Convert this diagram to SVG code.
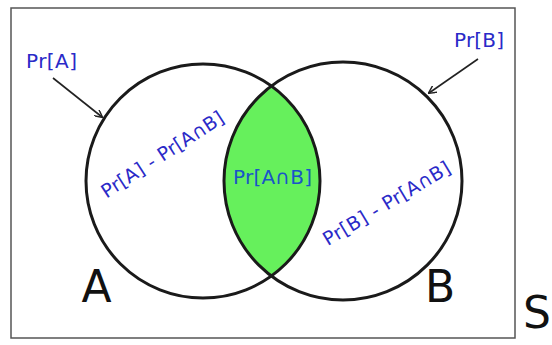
<svg xmlns="http://www.w3.org/2000/svg" width="552" height="345" viewBox="0 0 552 345">
<defs>
<style>
.lbl{font-family:"DejaVu Sans","Liberation Sans",sans-serif;fill:#2a2ac8;}
.big{font-family:"DejaVu Sans","Liberation Sans",sans-serif;fill:#111;font-size:44px;}
.circ{fill:none;stroke:#1a1a1a;stroke-width:3;}
.arr{stroke:#222;stroke-width:1.6;fill:none;marker-end:url(#ah);}
</style>
<marker id="ah" viewBox="0 0 10 10" refX="9" refY="5" markerWidth="8" markerHeight="8" orient="auto" markerUnits="userSpaceOnUse">
<path d="M0,0 L10,5 L0,10" fill="none" stroke="#222" stroke-width="1.8"/>
</marker>
</defs>
<rect x="0" y="0" width="552" height="345" fill="#fff"/>
<rect id="frame" x="11" y="8" width="504" height="330" fill="none" stroke="#555" stroke-width="1.5"/>
<g id="intersection">
<path d="M271.3,86 A117,117 0 0 1 271.3,276 A119,119 0 0 1 271.3,86 Z" fill="#66f05c"/>
<text class="lbl" x="272.5" y="184" font-size="20" text-anchor="middle" textLength="79" style="fill:#1a55c8">Pr[A∩B]</text>
</g>
<g id="setA">
<circle class="circ" cx="203" cy="181" r="117"/>
<text class="lbl" x="166" y="160" font-size="19" text-anchor="middle" textLength="142" transform="rotate(-33 166 160)">Pr[A] - Pr[A∩B]</text>
<text class="big" x="96.5" y="302" text-anchor="middle">A</text>
</g>
<g id="setB">
<circle class="circ" cx="343" cy="181" r="119"/>
<text class="lbl" x="390" y="209" font-size="19" text-anchor="middle" textLength="145" transform="rotate(-31 390 209)">Pr[B] - Pr[A∩B]</text>
<text class="big" x="440" y="302" text-anchor="middle">B</text>
</g>
<g id="labelPrA">
<text class="lbl" x="26" y="68" font-size="20" textLength="51">Pr[A]</text>
</g>
<g id="labelPrB">
<text class="lbl" x="454" y="47" font-size="20" textLength="50">Pr[B]</text>
</g>
<g id="labelS">
<text class="big" x="537" y="328" text-anchor="middle" font-size="44">S</text>
</g>
<g id="connectors">
<line class="arr" x1="53" y1="78" x2="102" y2="117"/>
<line class="arr" x1="478" y1="59" x2="429" y2="93"/>
</g>
</svg>
